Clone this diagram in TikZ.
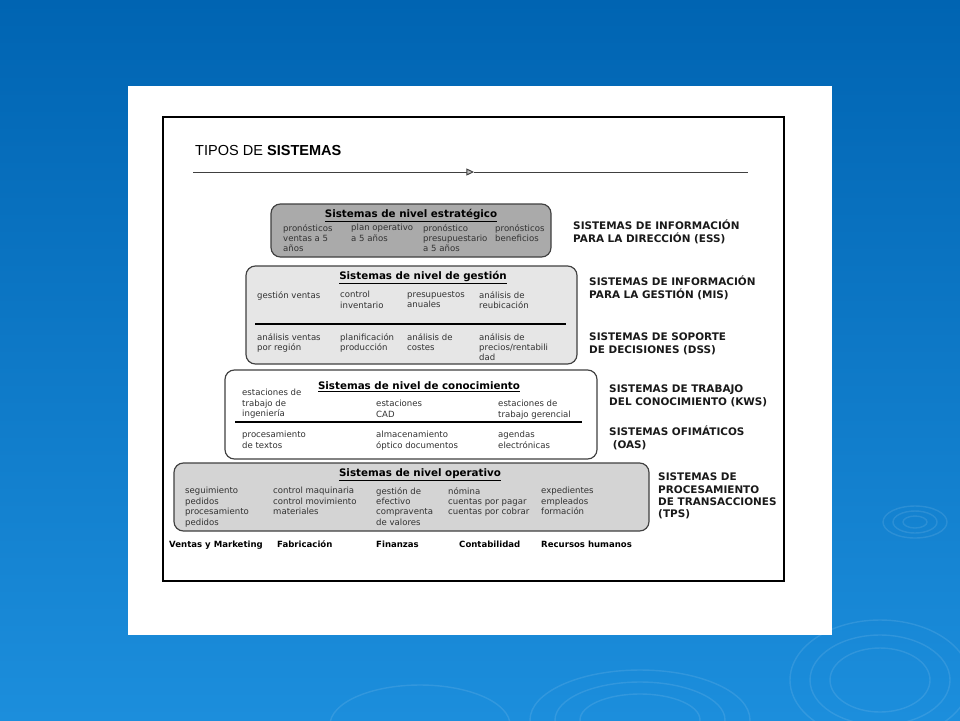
\documentclass[tikz,border=0pt]{standalone}
\usepackage{fontspec}
\setmainfont{DejaVu Sans}
\newfontfamily\headfont{Liberation Sans}
\usetikzlibrary{arrows.meta,positioning}
\definecolor{bgtop}{RGB}{0,100,178}
\definecolor{bgbot}{RGB}{28,142,220}
\definecolor{frame}{RGB}{64,64,64}
\definecolor{inktext}{RGB}{50,50,50}
\definecolor{strat}{RGB}{170,170,170}
\definecolor{gest}{RGB}{230,230,230}
\definecolor{oper}{RGB}{212,212,212}

\tikzset{
  levelbox/.style={draw=frame,line width=1pt,rounded corners=8pt},
  leveltitle/.style={anchor=base,inner sep=0pt,font=\fontsize{8.8}{10}\selectfont\bfseries},
  cell/.style={anchor=north west,inner sep=0pt,align=left,text=inktext,
    font=\fontsize{7.3}{8.9}\selectfont,execute at begin node=\strut},
  syslabel/.style={anchor=north west,inner sep=0pt,align=left,text=black!90,
    font=\fontsize{8.9}{10.5}\selectfont\bfseries,execute at begin node=\strut},
  area/.style={anchor=base west,inner sep=0pt,font=\fontsize{7.3}{8.9}\selectfont\bfseries},
  divider/.style={black,line width=1pt},
}

\begin{document}
\begin{tikzpicture}[x=0.03cm,y=-0.03cm]
  \useasboundingbox (0,0) rectangle (960,720);
  \shade[top color=bgtop,bottom color=bgbot] (0,0) rectangle (960,720);
  % ripples on the water
  \begin{scope}[white,opacity=0.1,line width=1.2pt]
    \draw (915,522) ellipse [x radius=32,y radius=16];
    \draw (915,522) ellipse [x radius=22,y radius=11];
    \draw (915,522) ellipse [x radius=12,y radius=6];
    \draw (880,680) ellipse [x radius=90,y radius=60];
    \draw (880,680) ellipse [x radius=70,y radius=45];
    \draw (880,680) ellipse [x radius=50,y radius=32];
    \draw (640,720) ellipse [x radius=110,y radius=50];
    \draw (640,720) ellipse [x radius=85,y radius=38];
    \draw (640,720) ellipse [x radius=60,y radius=26];
    \draw (420,725) ellipse [x radius=90,y radius=40];
  \end{scope}

  % the sheet
  \fill[white] (128,86) rectangle (832,635);
  \draw[black,line width=1.5pt] (163,117) rectangle (784,581);

  \node[anchor=base west,inner sep=0pt,font=\headfont\fontsize{12.4}{14}\selectfont] (title) at (195,155) {TIPOS DE \textbf{SISTEMAS}};
  \coordinate (axisL) at (193,172);
  \coordinate (axisM) at (474,172);
  \coordinate (axisR) at (748,172);
  \draw[frame,line width=0.8pt,-{Triangle[length=6.5pt,width=6pt,fill=gray!50]}] (axisL) -- (axisM);
  \draw[frame,line width=0.8pt] (axisM) -- (axisR);

  % strategic level
  \draw[levelbox,fill=strat] (271,204) rectangle (551,257);
  \node[leveltitle] (estr) at (411,217) {\underline{Sistemas de nivel estratégico}};
  \node[cell] (estr1) at (283,224) {pronósticos\\ventas a 5\\años};
  \node[cell] (estr2) at (351,224) {plan operativo\\a 5 años};
  \node[cell] (estr3) at (423,224) {pronóstico\\presupuestario\\a 5 años};
  \node[cell] (estr4) at (495,224) {pronósticos\\beneficios};
  \node[syslabel] (ess) at (573,220) {SISTEMAS DE INFORMACIÓN\\PARA LA DIRECCIÓN (ESS)};

  % management level
  \draw[levelbox,fill=gest] (246,266) rectangle (577,364);
  \node[leveltitle] (gest) at (423,279) {\underline{Sistemas de nivel de gestión}};
  \node[cell] (gest1) at (257,291) {gestión ventas};
  \node[cell] (gest2) at (340,291) {control\\inventario};
  \node[cell] (gest3) at (407,291) {presupuestos\\anuales};
  \node[cell] (gest4) at (479,291) {análisis de\\reubicación};
  \coordinate (gestL) at (255,324);
  \coordinate (gestR) at (566,324);
  \draw[divider] (gestL) -- (gestR);
  \node[cell] (dss1) at (257,333) {análisis ventas\\por región};
  \node[cell] (dss2) at (340,333) {planificación\\producción};
  \node[cell] (dss3) at (407,333) {análisis de\\costes};
  \node[cell] (dss4) at (479,333) {análisis de\\precios/rentabili\\dad};
  \node[syslabel] (mis) at (589,276) {SISTEMAS DE INFORMACIÓN\\PARA LA GESTIÓN (MIS)};
  \node[syslabel] (dss) at (589,333) {SISTEMAS DE SOPORTE\\DE DECISIONES (DSS)};

  % knowledge level
  \draw[levelbox,fill=white] (225,370) rectangle (597,459);
  \node[leveltitle] (cono) at (419,389) {\underline{Sistemas de nivel de conocimiento}};
  \node[cell] (cono1) at (242,389) {estaciones de\\trabajo de\\ingeniería};
  \node[cell] (cono2) at (376,400) {estaciones\\CAD};
  \node[cell] (cono3) at (498,400) {estaciones de\\trabajo gerencial};
  \coordinate (conoL) at (235,422);
  \coordinate (conoR) at (582,422);
  \draw[divider] (conoL) -- (conoR);
  \node[cell] (ofi1) at (242,431) {procesamiento\\de textos};
  \node[cell] (ofi2) at (376,431) {almacenamiento\\óptico documentos};
  \node[cell] (ofi3) at (498,431) {agendas\\electrónicas};
  \node[syslabel] (kws) at (609,385) {SISTEMAS DE TRABAJO\\DEL CONOCIMIENTO (KWS)};
  \node[syslabel] (oas) at (609,426) {SISTEMAS OFIMÁTICOS\\\hspace{3pt}(OAS)};

  % operational level
  \draw[levelbox,fill=oper] (174,463) rectangle (649,531);
  \node[leveltitle] (oper) at (420,476) {\underline{Sistemas de nivel operativo}};
  \node[cell] (oper1) at (185,487) {seguimiento\\pedidos\\procesamiento\\pedidos};
  \node[cell] (oper2) at (273,487) {control maquinaria\\control movimiento\\materiales};
  \node[cell] (oper3) at (376,487) {gestión de\\efectivo\\compraventa\\de valores};
  \node[cell] (oper4) at (448,487) {nómina\\cuentas por pagar\\cuentas por cobrar};
  \node[cell] (oper5) at (541,487) {expedientes\\empleados\\formación};
  \node[syslabel] (tps) at (658,473) {SISTEMAS DE\\PROCESAMIENTO\\DE TRANSACCIONES\\(TPS)};

  % functional areas
  \node[area] (ventas) at (169,547.5) {Ventas y Marketing};
  \node[area] (fabric) at (277,547.5) {Fabricación};
  \node[area] (finanz) at (376,547.5) {Finanzas};
  \node[area] (contab) at (459,547.5) {Contabilidad};
  \node[area] (rrhh) at (541,547.5) {Recursos humanos};
\end{tikzpicture}
\end{document}
